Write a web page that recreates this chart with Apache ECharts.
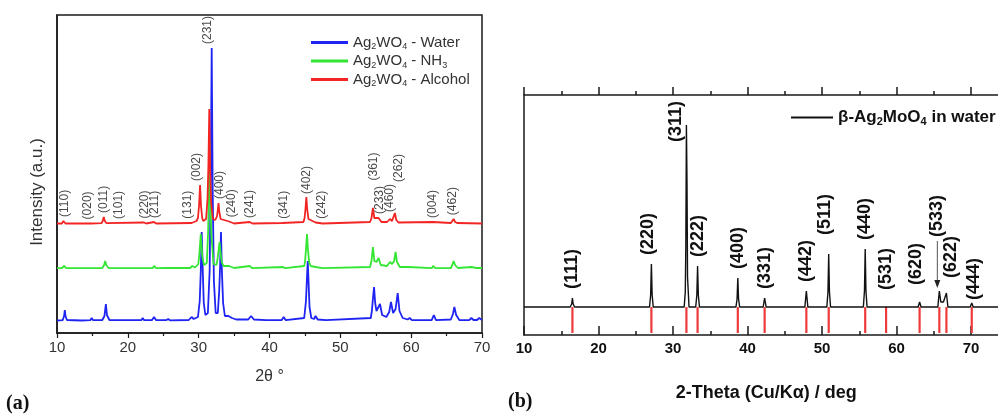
<!DOCTYPE html>
<html><head><meta charset="utf-8">
<script src="https://cdn.jsdelivr.net/npm/echarts@6/dist/echarts.min.js"></script>
<style>html,body{margin:0;padding:0;background:#fff}#c{width:998px;height:417px}</style>
</head><body><div id="c"></div>
<script>
// ---------------- DATA : panel (a) ----------------
const seriesNamesA = ['Ag2WO4 - Water', 'Ag2WO4 - NH3', 'Ag2WO4 - Alcohol'];
const xTicksA = [10, 20, 30, 40, 50, 60, 70];
// [2θ, intensity above the trace's own baseline]
const waterXRD = [[10.0,0.5],[10.8,0.8],[11.0,5],[11.1,11],[11.2,5],[11.4,1],[13.5,0.5],[14.7,0.8],[14.9,3],[15.1,0.8],[16.4,1],[16.7,5],[16.9,17],[17.05,6],[17.4,1],[18.4,0.8],[18.6,2],[18.8,0.8],[21.9,0.8],[22.1,3],[22.3,0.8],[23.4,0.8],[23.7,4],[24.0,0.8],[25.4,0.8],[25.7,2],[26.0,0.6],[28.6,1],[29.0,4],[29.3,2],[29.9,4],[30.15,20],[30.3,50],[30.43,89],[30.58,50],[30.72,18],[30.95,6],[31.3,8],[31.55,50],[31.7,140],[31.84,273],[31.98,130],[32.15,40],[32.4,8],[32.7,8],[32.9,30],[33.03,55],[33.15,89],[33.28,50],[33.45,18],[33.7,5],[34.2,5],[34.4,7],[34.7,3],[35.3,1.5],[37.0,1.5],[37.4,5],[37.8,1.5],[39.5,0.8],[41.7,0.8],[42.0,4],[42.3,0.8],[44.9,3],[45.15,20],[45.27,40],[45.4,60],[45.52,38],[45.65,14],[45.9,3],[46.3,2],[46.5,5],[46.8,1.5],[48.0,0.8],[54.3,3],[54.45,10],[54.6,22],[54.76,34],[54.92,18],[55.1,10],[55.25,9],[55.6,17],[55.9,6],[56.5,4],[56.9,9],[57.15,19],[57.45,8],[57.8,12],[58.1,28],[58.35,10],[58.8,3],[59.5,1.5],[59.8,3],[60.1,0.8],[62.9,0.8],[63.2,6],[63.5,0.8],[65.6,1.5],[65.9,7],[66.1,14],[66.35,6],[66.8,1],[68.2,0.8],[68.5,3],[68.8,1],[69.3,1],[69.6,3],[70.0,1]];
const nh3XRD = [[10.0,0.8],[10.7,0.8],[11.0,3],[11.3,0.8],[14.8,0.8],[15.0,1.5],[15.2,0.8],[16.4,1],[16.65,4],[16.8,8],[16.95,4],[17.3,1],[22.1,0.8],[22.3,1.5],[22.5,0.8],[23.5,0.8],[23.7,3],[24.0,0.8],[25.7,1.2],[28.8,1],[29.1,3],[29.5,1.5],[29.95,5],[30.1,15],[30.2,25],[30.3,35],[30.4,24],[30.52,12],[30.75,4],[31.15,6],[31.35,40],[31.45,80],[31.55,130],[31.65,75],[31.78,35],[32.1,5],[32.5,4],[32.65,9],[32.8,18],[32.95,27],[33.08,17],[33.25,7],[33.5,3],[34.3,3],[35.0,1],[37.2,3],[37.6,0.8],[41.9,2],[42.2,0.8],[44.9,3],[45.03,8],[45.15,20],[45.3,35],[45.42,20],[45.6,7],[45.8,3],[46.5,2],[47.5,0.8],[54.2,2],[54.4,8],[54.6,22],[54.8,8],[55.1,7],[55.4,11],[55.7,4],[56.6,3],[57.0,7],[57.3,5],[57.6,8],[57.8,17],[58.0,7],[58.4,2],[59.6,2],[62.9,0.8],[63.1,3],[63.4,0.8],[65.6,1],[65.8,4],[66.0,8],[66.2,4],[66.6,1],[68.5,2],[69.2,1],[70.0,1]];
const alcoholXRD = [[10.0,0.5],[10.7,0.5],[10.9,3],[11.2,0.5],[14.8,0.5],[16.3,0.8],[16.45,3],[16.6,7],[16.75,3],[17.0,0.8],[22.3,1.5],[22.6,0.5],[23.7,2],[24.0,0.5],[29.0,1],[29.7,3],[29.9,6],[30.05,18],[30.2,39],[30.33,18],[30.5,6],[30.65,3],[31.05,5],[31.25,25],[31.38,60],[31.5,115],[31.62,55],[31.75,22],[32.0,5],[32.35,4],[32.6,8],[32.7,14],[32.8,21],[32.92,12],[33.1,5],[33.3,3],[34.3,2.5],[35.0,0.5],[37.2,2],[37.6,0.5],[41.8,1],[44.8,2],[44.95,6],[45.08,15],[45.2,27],[45.32,15],[45.5,5],[45.65,3],[46.5,1.5],[47.5,0.5],[54.2,2],[54.4,6],[54.6,16],[54.8,6],[55.0,4],[55.4,6],[55.8,2],[56.6,2],[57.0,5],[57.3,3],[57.5,5],[57.7,11],[57.9,4],[58.2,1.5],[63.1,2],[65.6,1],[65.8,2.5],[66.0,5],[66.2,2],[66.5,1],[70.0,0.5]];
const hklLabelsA = ['(110)','(020)','(011)','(101)','(220)','(211)','(131)','(002)','(231)','(400)','(240)','(241)','(341)','(402)','(242)','(361)','(233)','(460)','(262)','(004)','(462)'];
const hklAnglesA = [11.1,14.4,16.6,18.7,22.4,23.8,28.5,29.7,31.3,32.9,34.6,37.2,42.0,45.25,47.4,54.65,55.6,57.0,58.3,63.1,65.85];

// ---------------- DATA : panel (b) ----------------
const seriesNameB = 'β-Ag2MoO4 in water';
const xTicksB = [10, 20, 30, 40, 50, 60, 70];
const moWaterXRD = [[10,0],[16.2,0],[16.4,3],[16.5,9],[16.6,3],[16.8,0],[26.85,0],[27.0,12],[27.1,43],[27.2,12],[27.35,0],[31.5,0],[31.65,15],[31.72,60],[31.8,182],[31.88,124],[31.95,30],[32.15,0],[33.05,0],[33.2,12],[33.3,41],[33.4,12],[33.55,0],[38.45,0],[38.6,8],[38.7,29],[38.8,8],[38.95,0],[42.1,0],[42.3,9],[42.5,0],[47.7,0],[47.9,16],[48.1,0],[50.65,0],[50.8,15],[50.9,53],[51.0,15],[51.15,0],[55.55,0],[55.7,16],[55.8,58],[55.9,16],[56.05,0],[58.4,0],[58.6,1],[58.8,0],[62.9,0],[63.1,5],[63.3,0],[65.55,0],[65.75,16],[65.95,5],[66.3,5],[66.7,14],[66.9,0],[69.9,0],[70.1,4],[70.3,0],[72.3,0],[72.5,2],[72.7,0],[80,0]];
const refStickAngles = [16.5,27.1,31.8,33.3,38.7,42.3,47.9,50.9,55.8,58.6,63.1,65.75,66.7,70.1];
const hklLabelsB = ['(111)','(220)','(311)','(222)','(400)','(331)','(442)','(511)','(440)','(531)','(620)','(533)','(622)','(444)'];
const hklAnglesB = [16.5,27.1,31.8,33.3,38.7,42.3,47.9,50.9,55.8,58.6,63.1,65.75,66.7,70.1];

// ---------------- layout / style (not data) ----------------
const offsetsA = [12, 64, 109];          // vertical stacking of the three traces
const colorsA = ['#1f24f2', '#33e633', '#f22424'];
const baseB = 28;                          // trace (b) raised above stick pattern
const liftA = {'(361)': 24, '(262)': 27};
const nudgeB = {'(311)':[-10,-26], '(220)':[-3,0], '(511)':[-4,10], '(531)':[0,7], '(620)':[-4,8], '(533)':[-2,45], '(622)':[5,6], '(444)':[2,-6]};

function richName(n, cls, sub) {
  return n.split(/(\d)/).filter(s => s.length).map(s => /^\d$/.test(s) ? '{' + sub + '|' + s + '}' : '{' + cls + '|' + s + '}').join('');
}
function interp(pts, a) {
  if (a <= pts[0][0]) return pts[0][1];
  for (let i = 1; i < pts.length; i++) {
    if (pts[i][0] >= a) { const [x0,y0] = pts[i-1], [x1,y1] = pts[i]; return y0 + (y1-y0)*(a-x0)/(x1-x0); }
  }
  return pts[pts.length-1][1];
}

const chart = echarts.init(document.getElementById('c'), null, {renderer: 'canvas'});
const seriesDataA = [waterXRD, nh3XRD, alcoholXRD];

const axisBlack = '#1a1a1a';
const option = {
  animation: false,
  backgroundColor: '#ffffff',
  grid: [
    {left: 57, top: 15, width: 425, height: 318, show: true, borderColor: axisBlack, borderWidth: 1.5, backgroundColor: 'transparent', containLabel: false, outerBoundsMode: 'none'},
    {left: 524, top: 95, width: 521.5, height: 240, show: false, containLabel: false, outerBoundsMode: 'none'}
  ],
  xAxis: [
    {gridIndex: 0, type: 'value', min: xTicksA[0], max: xTicksA[xTicksA.length-1], interval: xTicksA[1]-xTicksA[0], position: 'bottom',
     axisLine: {show: true, onZero: false, lineStyle: {color: axisBlack, width: 1.5}},
     axisTick: {show: true, inside: false, length: 5, lineStyle: {color: axisBlack, width: 1.2}},
     minorTick: {show: true, splitNumber: 2, length: 3, lineStyle: {color: axisBlack, width: 1.2}},
     axisLabel: {show: true, margin: 7, fontSize: 15, color: '#333', fontFamily: 'Arial, Liberation Sans'},
     splitLine: {show: false}, minorSplitLine: {show: false},
     name: '2θ °', nameLocation: 'middle', nameGap: 36,
     nameTextStyle: {fontSize: 16, color: '#333', fontFamily: 'Arial, Liberation Sans'}},
    {gridIndex: 1, type: 'value', min: xTicksB[0], max: 80, interval: xTicksB[1]-xTicksB[0], position: 'bottom',
     axisLine: {show: true, onZero: false, lineStyle: {color: axisBlack, width: 1.5}},
     axisTick: {show: true, inside: true, length: 9, lineStyle: {color: axisBlack, width: 1.5}},
     minorTick: {show: true, splitNumber: 2, length: 4, lineStyle: {color: axisBlack, width: 1.5}},
     axisLabel: {show: true, margin: 6, fontSize: 15, fontWeight: 'bold', color: '#111', fontFamily: 'Arial, Liberation Sans'},
     splitLine: {show: false}, minorSplitLine: {show: false},
     name: '2-Theta (Cu/Kα) / deg', nameLocation: 'middle', nameGap: 49,
     nameTextStyle: {fontSize: 18, fontWeight: 'bold', color: '#111', fontFamily: 'Arial, Liberation Sans', padding: [0, 37, 0, 0]}},
    {gridIndex: 1, type: 'value', min: xTicksB[0], max: 80, interval: xTicksB[1]-xTicksB[0], position: 'top',
     axisLine: {show: true, onZero: false, lineStyle: {color: axisBlack, width: 1.5}},
     axisTick: {show: true, inside: false, length: 8, lineStyle: {color: axisBlack, width: 1.5}},
     minorTick: {show: true, splitNumber: 2, length: 4, lineStyle: {color: axisBlack, width: 1.5}},
     axisLabel: {show: false}, splitLine: {show: false}, minorSplitLine: {show: false}}
  ],
  yAxis: [
    {gridIndex: 0, type: 'value', min: 0, max: 318,
     axisLine: {show: true, onZero: false, lineStyle: {color: axisBlack, width: 1.5}},
     axisTick: {show: false}, axisLabel: {show: false}, splitLine: {show: false},
     name: 'Intensity (a.u.)', nameLocation: 'middle', nameGap: 11, nameRotate: 90,
     nameTextStyle: {fontSize: 17, color: '#333', fontFamily: 'Arial, Liberation Sans', padding: [0, 36, 0, 0]}},
    {gridIndex: 1, type: 'value', min: 0, max: 240,
     axisLine: {show: true, onZero: false, lineStyle: {color: axisBlack, width: 1.5}},
     axisTick: {show: false}, axisLabel: {show: false}, splitLine: {show: false}}
  ],
  legend: [
    {data: seriesNamesA, left: 306, top: 30, orient: 'vertical', itemGap: 2, itemWidth: 37, itemHeight: 3, icon: 'rect', selectedMode: false,
     formatter: n => richName(n, 't', 's'),
     textStyle: {rich: {
       t: {fontSize: 15, color: '#333', fontFamily: 'Arial, Liberation Sans', lineHeight: 18},
       s: {fontSize: 9, color: '#333', fontFamily: 'Arial, Liberation Sans', lineHeight: 9, verticalAlign: 'bottom'}}}},
    {data: [seriesNameB], left: 786, top: 104, itemWidth: 42, itemHeight: 2, icon: 'rect', selectedMode: false,
     formatter: n => richName(n, 't', 's'),
     textStyle: {rich: {
       t: {fontSize: 17, fontWeight: 'bold', color: '#111', fontFamily: 'Arial, Liberation Sans', lineHeight: 20},
       s: {fontSize: 11, fontWeight: 'bold', color: '#111', fontFamily: 'Arial, Liberation Sans', lineHeight: 10, verticalAlign: 'bottom'}}}}
  ],
  series: [
    ...seriesDataA.map((d, i) => ({
      name: seriesNamesA[i], type: 'line', xAxisIndex: 0, yAxisIndex: 0, symbol: 'none', smooth: false,
      data: d.map(p => [p[0], p[1] + offsetsA[i]]),
      lineStyle: {color: colorsA[i], width: 1.8}, itemStyle: {color: colorsA[i]}, z: 2 + i
    })),
    {type: 'custom', xAxisIndex: 1, yAxisIndex: 1, silent: true, z: 2,
     data: refStickAngles.map(a => [a, baseB]),
     renderItem: (params, api) => {
       const p0 = api.coord([api.value(0), 0]);
       const p1 = api.coord([api.value(0), api.value(1)]);
       return {type: 'line', shape: {x1: p0[0], y1: p0[1] - 2, x2: p1[0], y2: p1[1]}, style: {stroke: '#ee3a3a', lineWidth: 2.2}};
     }},
    {name: seriesNameB, type: 'line', xAxisIndex: 1, yAxisIndex: 1, symbol: 'none', smooth: false, z: 3,
     data: moWaterXRD.map(p => [p[0], p[1] + baseB]),
     lineStyle: {color: '#111', width: 1.4}, itemStyle: {color: '#111'}}
  ]
};
chart.setOption(option);

// --------- hkl annotations placed through the axes' scales ---------
const g = [];
hklLabelsA.forEach((t, i) => {
  const a = hklAnglesA[i];
  let m = -Infinity;
  for (let x = a - 0.6; x <= a + 0.6 + 1e-9; x += 0.02) {
    seriesDataA.forEach((d, k) => { m = Math.max(m, interp(d, x) + offsetsA[k]); });
  }
  const p = chart.convertToPixel({gridIndex: 0}, [a, m]);
  g.push({type: 'text', x: p[0], y: p[1] - 4 - (liftA[t] || 0), rotation: Math.PI / 2, silent: true, z: 10,
    style: {text: t, align: 'left', verticalAlign: 'middle', fontSize: 12, fontFamily: 'Arial, Liberation Sans', fill: '#4a4a4a'}});
});
hklLabelsB.forEach((t, i) => {
  const a = hklAnglesB[i];
  let m = -Infinity;
  for (let x = a - 0.25; x <= a + 0.25 + 1e-9; x += 0.01) m = Math.max(m, interp(moWaterXRD, x) + baseB);
  const p = chart.convertToPixel({gridIndex: 1}, [a, m]);
  const nd = nudgeB[t] || [0, 0];
  const bx = p[0] + nd[0], by = p[1] - 9 - nd[1];
  g.push({type: 'text', x: bx, y: by, rotation: Math.PI / 2, silent: true, z: 10,
    style: {text: t, align: 'left', verticalAlign: 'middle', fontSize: 18, fontWeight: 'bold', fontFamily: 'Arial, Liberation Sans', fill: '#111'}});
  if (t === '(533)') {
    const top = p[1] - 3;
    g.push({type: 'line', silent: true, z: 10, shape: {x1: bx, y1: by + 4, x2: bx, y2: top - 7}, style: {stroke: '#555', lineWidth: 1}});
    g.push({type: 'polygon', silent: true, z: 10, shape: {points: [[bx - 3, top - 8], [bx + 3, top - 8], [bx, top]]}, style: {fill: '#222'}});
  }
});
g.push({type: 'text', left: 6, top: 394, silent: true,
  style: {text: '(a)', fontSize: 20, fontWeight: 'bold', fontFamily: 'Times New Roman, Liberation Serif', fill: '#111'}});
g.push({type: 'text', left: 508, top: 392, silent: true,
  style: {text: '(b)', fontSize: 20, fontWeight: 'bold', fontFamily: 'Times New Roman, Liberation Serif', fill: '#111'}});
chart.setOption({graphic: g});
</script>
</body></html>
